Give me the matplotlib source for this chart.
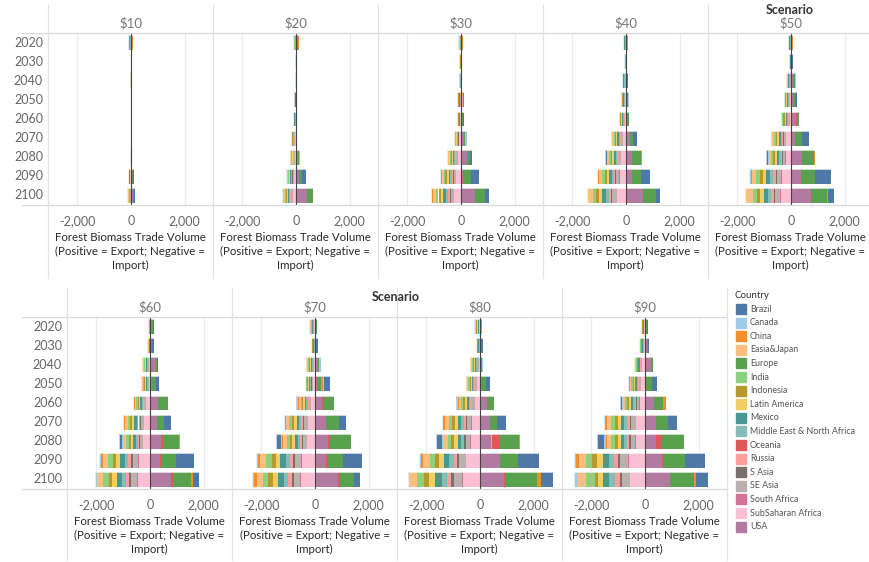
import matplotlib
matplotlib.use("Agg")
import matplotlib.pyplot as plt
from matplotlib.lines import Line2D
from matplotlib.patches import Rectangle

plt.rcParams['font.family'] = ['Lato', 'DejaVu Sans']

W, H = 870, 562

years = [2020, 2030, 2040, 2050, 2060, 2070, 2080, 2090, 2100]
countries = ["Brazil", "Canada", "China", "Easia&Japan", "Europe", "India", "Indonesia",
             "Latin America", "Mexico", "Middle East & North Africa", "Oceania", "Russia",
             "S Asia", "SE Asia", "South Africa", "SubSaharan Africa", "USA"]
colors = ["#4E79A7", "#A0CBE8", "#F28E2B", "#FFBE7D", "#59A14F", "#8CD17D", "#B6992D",
          "#F1CE63", "#499894", "#86BCB6", "#E15759", "#FF9D9A", "#79706E", "#BAB0AC",
          "#D37295", "#FABFD2", "#B07AA1"]
scenarios = ["$10", "$20", "$30", "$40", "$50", "$60", "$70", "$80", "$90"]
tick_values = [-2000, 0, 2000]
tick_labels = ["-2,000", "0", "2,000"]
axis_title = "Forest Biomass Trade Volume\n(Positive = Export; Negative =\nImport)"

# Trade volume per country, years 2020..2100 (positive = export, negative = import)
s10 = {
    "Brazil": [0, 10, 0, 0, 0, 0, 0, 30, 40],
    "Canada": [-30, -5, 0, -5, -5, -5, 0, 0, -30],
    "China": [35, 0, 0, 0, 0, 0, 15, 0, 0],
    "Easia&Japan": [0, 0, 0, 0, 0, 0, -20, -30, -20],
    "Europe": [0, 0, 10, 0, 0, 0, 0, 40, 50],
    "Indonesia": [-20, 0, -25, 0, 0, 0, 0, 0, 0],
    "Latin America": [40, 0, 0, 0, 0, 0, 0, 0, 0],
    "Mexico": [-30, 0, 0, 0, 0, 0, 0, -20, -20],
    "Middle East & North Africa": [-20, 0, 0, 0, 0, 0, 0, 0, -20],
    "Oceania": [0, 0, 0, 0, 0, 0, 0, 20, 0],
    "Russia": [0, 0, 0, 0, 0, 0, -30, -30, -20],
    "S Asia": [0, 0, 0, -5, -5, -5, 0, 0, 0],
    "SE Asia": [0, 0, 0, 0, 0, 0, 0, 0, -20],
    "SubSaharan Africa": [0, 0, 0, 0, 0, 0, 0, -20, 0],
    "USA": [0, 0, 0, 0, 0, 0, 0, 10, 70],
}
s20 = {
    "Brazil": [0, 0, 12, -20, 0, 0, 0, 120, 0],
    "Canada": [-20, 12, 0, -20, -30, -5, 40, -10, -20],
    "China": [30, 0, 0, 0, 0, -10, -10, -15, -20],
    "Easia&Japan": [0, 0, 0, 0, 0, -20, -20, -35, -50],
    "Europe": [40, 0, 0, 0, 0, 10, 60, 130, 220],
    "India": [-30, 0, 0, 0, 0, -15, -20, -35, -45],
    "Indonesia": [0, 0, 0, 0, -25, -15, -15, -25, -35],
    "Latin America": [30, 0, 0, 0, 0, -15, -15, -30, -40],
    "Mexico": [-30, -30, -15, 0, -25, -15, -20, -35, -45],
    "Middle East & North Africa": [-20, -20, -25, 0, -30, -15, -15, -25, -35],
    "Russia": [0, 0, 0, 0, 0, -10, -15, -20, -30],
    "S Asia": [0, 0, 0, -20, 0, -5, -5, -10, -15],
    "SE Asia": [0, 0, 0, 0, 0, -20, -25, -40, -55],
    "South Africa": [0, 0, 0, 0, 0, 0, 0, 5, -5],
    "SubSaharan Africa": [0, 0, 0, 0, 0, -40, -45, -80, -110],
    "USA": [0, 0, 0, 0, 0, 0, 70, 110, 420],
}
s30 = {
    "Brazil": [0, 25, 50, 0, 20, 0, 60, 310, 155],
    "Canada": [-25, 0, 0, -20, -20, 70, -20, -25, -35],
    "China": [30, 0, 0, 0, 0, -10, -20, -30, -45],
    "Easia&Japan": [-25, 0, 0, -25, 0, -25, -50, -75, -115],
    "Europe": [0, 0, 0, 30, 30, 40, 125, 280, 370],
    "India": [0, -30, 0, 0, -30, -25, -45, -70, -100],
    "Indonesia": [0, -30, 0, -20, -20, -20, -35, -55, -80],
    "Latin America": [30, 0, 0, 0, 0, -20, -40, -60, -90],
    "Mexico": [-25, 0, -30, -25, -30, -25, -45, -70, -100],
    "Middle East & North Africa": [-25, 0, -30, -25, -25, -20, -35, -55, -80],
    "Russia": [25, 0, 0, 30, 0, -15, -30, -45, -65],
    "S Asia": [0, 0, 0, 0, 0, -10, -15, -25, -35],
    "SE Asia": [0, 0, 0, -20, 0, -30, -55, -85, -125],
    "South Africa": [0, 0, 0, 0, 0, 0, -5, -10, -10],
    "SubSaharan Africa": [0, 0, 0, 0, -25, -55, -110, -170, -250],
    "USA": [0, 0, 0, 40, 50, 100, 210, 90, 520],
}
s40 = {
    "Brazil": [0, 50, 40, 0, 0, 150, -60, 330, 125],
    "Canada": [-30, -25, -25, 35, 0, -15, -15, -40, -45],
    "China": [30, 0, 0, 0, 0, -25, 35, -45, 25],
    "Easia&Japan": [0, 0, -25, 0, 0, -55, -70, -110, -150],
    "Europe": [30, 0, 0, 40, 45, 130, 370, 370, 470],
    "India": [0, 0, 0, -35, -30, -50, -70, -95, -135],
    "Indonesia": [-25, 0, 0, -30, -45, -40, -55, -75, -105],
    "Latin America": [25, 0, 0, 0, -30, -45, -60, -85, -120],
    "Mexico": [-30, -25, -35, -35, -35, -50, -70, -95, -135],
    "Middle East & North Africa": [-25, -25, -35, -35, -35, -40, -55, -75, -105],
    "Oceania": [0, 0, 0, 0, 30, 0, 0, 0, 0],
    "Russia": [0, 0, 0, 0, -30, -35, -45, -65, -90],
    "S Asia": [0, 0, 0, 0, 0, -15, -20, -30, -45],
    "SE Asia": [0, 0, -30, 0, 0, -60, -80, -120, -165],
    "South Africa": [0, 0, 0, 0, 0, -5, -10, -10, -15],
    "SubSaharan Africa": [0, 0, 0, -30, -40, -120, -165, -235, -330],
    "USA": [0, 0, 45, 50, 50, 150, 210, 210, 640],
}
s50 = {
    "Brazil": [0, 45, 0, 50, 0, 260, -100, 590, 225],
    "Canada": [-25, 0, 50, 0, 0, -20, -30, -45, -55],
    "China": [25, 0, 0, 0, 0, -30, 35, -60, 35],
    "Easia&Japan": [0, -25, -35, 0, -35, -75, -85, -155, -240],
    "Europe": [25, 15, 60, 100, 90, 270, 470, 520, 565],
    "India": [-20, 0, 0, -30, -40, -70, -80, -140, -155],
    "Indonesia": [-25, -30, 0, -45, -45, -55, -60, -110, -120],
    "Latin America": [25, 0, -30, -30, -35, -60, -70, -125, -135],
    "Mexico": [-30, -30, -40, -35, -45, -70, -80, -140, -155],
    "Middle East & North Africa": [-25, 0, -40, -35, -40, -55, -60, -110, -120],
    "Oceania": [0, 0, 0, 0, 40, 0, 0, 0, 25],
    "Russia": [0, 0, 0, -30, -30, -45, -55, -95, -100],
    "S Asia": [0, 0, 0, 0, 0, -20, -25, -45, -50],
    "SE Asia": [0, 0, -40, 0, -35, -85, -95, -170, -190],
    "South Africa": [0, 0, 0, 0, 0, -10, -10, -15, -15],
    "SubSaharan Africa": [0, 0, 0, -40, -50, -165, -195, -340, -375],
    "USA": [0, 0, 90, 70, 180, 160, 405, 380, 750],
}
s60 = {
    "Brazil": [50, 100, 50, 110, 0, 260, -120, 680, 235],
    "Canada": [0, -25, 0, -25, -15, -20, -40, -60, -65],
    "China": [0, 0, -30, 0, -30, -40, 30, -75, 75],
    "Easia&Japan": [-20, -25, -30, -35, -60, -100, -110, -190, -250],
    "Europe": [40, 30, 60, 185, 380, 260, 590, 550, 655],
    "India": [0, 0, -30, -35, -55, -90, -95, -170, -190],
    "Indonesia": [0, -25, -30, -35, -45, -70, -75, -130, -145],
    "Latin America": [0, 0, -30, -30, -50, -80, -85, -150, -165],
    "Mexico": [-20, -25, -35, -40, -55, -90, -95, -170, -190],
    "Middle East & North Africa": [-20, 0, -35, -35, -45, -70, -75, -130, -145],
    "Oceania": [0, 0, 0, 0, 0, 20, 60, 35, 75],
    "Russia": [0, 0, 0, 0, -35, -60, -65, -115, -125],
    "S Asia": [0, 0, 0, 0, -15, -30, -30, -55, -60],
    "SE Asia": [0, 0, -30, -35, -70, -110, -115, -205, -230],
    "South Africa": [0, 0, 0, 0, -5, -10, -10, -20, -20],
    "SubSaharan Africa": [0, 0, -35, -50, -135, -215, -240, -410, -460],
    "USA": [60, 40, 210, 60, 300, 260, 430, 395, 800],
}
s70 = {
    "Brazil": [0, 100, 0, 190, -50, 275, -185, 725, 225],
    "Canada": [-25, 0, 70, 60, -20, -35, -50, -65, -70],
    "China": [-20, 0, -30, 75, -30, -45, -50, -85, -95],
    "Easia&Japan": [-25, -30, -35, -40, -65, -115, -125, -220, -235],
    "Europe": [30, 0, 40, 160, 360, 455, 750, 590, 555],
    "India": [-25, 0, -35, -35, -60, -105, -115, -195, -210],
    "Indonesia": [-25, -35, -35, -30, -45, -80, -90, -155, -165],
    "Latin America": [30, 0, -35, -30, -50, -95, -100, -175, -185],
    "Mexico": [-30, -35, -40, -35, -60, -105, -115, -195, -210],
    "Middle East & North Africa": [-30, -35, -40, -30, -45, -80, -90, -155, -165],
    "Oceania": [0, 0, 0, 0, 100, 0, 110, 50, 30],
    "Russia": [0, 0, 0, -25, -40, -70, -75, -130, -140],
    "S Asia": [0, 0, 0, -10, -20, -35, -40, -65, -70],
    "SE Asia": [0, 0, -40, -40, -70, -130, -140, -240, -255],
    "South Africa": [0, 0, 0, 0, -5, -10, -10, -20, -25],
    "SubSaharan Africa": [-30, 0, -40, -85, -140, -255, -280, -480, -515],
    "USA": [0, 20, 100, 60, 250, 430, 470, 395, 860],
}
s80 = {
    "Brazil": [0, 50, 0, 160, -50, 340, -220, 780, 455],
    "Canada": [-20, 0, 50, -15, -30, -40, -65, -65, -60],
    "China": [20, 0, -35, -25, -35, -55, 35, -90, 165],
    "Easia&Japan": [-30, -30, -40, -50, -80, -140, -155, -230, -280],
    "Europe": [40, 30, 35, 210, 280, 250, 750, 680, 1170],
    "India": [-25, 0, -40, -45, -75, -125, -140, -200, -250],
    "Indonesia": [-30, -40, -40, -40, -60, -100, -110, -160, -195],
    "Latin America": [-25, 0, -40, -40, -65, -110, -125, -180, -225],
    "Mexico": [-30, -40, -45, -50, -75, -125, -140, -200, -250],
    "Middle East & North Africa": [-25, -40, -45, -40, -60, -100, -110, -160, -195],
    "Oceania": [0, 0, 0, 0, 0, 0, 270, 0, 60],
    "Russia": [0, 0, 0, -30, -50, -85, 40, -135, -170],
    "S Asia": [0, 0, 0, -15, -25, -40, -45, -70, -85],
    "SE Asia": [0, 0, -40, -55, -90, -155, -175, -250, -310],
    "South Africa": [0, 0, 0, 0, -10, -15, -15, -20, -30],
    "SubSaharan Africa": [-25, 0, -45, -115, -185, -310, -345, -500, -640],
    "USA": [0, 20, 40, 10, 250, 370, 395, 740, 890],
}
s90 = {
    "Brazil": [35, 60, 0, 195, -100, 330, -235, 770, 435],
    "Canada": [-25, 0, -10, -15, -30, -50, -80, -85, -135],
    "China": [0, -25, -20, -30, 100, -60, -60, -110, 85],
    "Easia&Japan": [-25, -30, -45, -60, -85, -155, -145, -265, -310],
    "Europe": [40, 50, 90, 200, 335, 470, 800, 750, 890],
    "India": [0, -25, -40, -55, -80, -135, -130, -235, -330],
    "Indonesia": [-25, -30, -30, -45, -60, -105, -105, -185, -120],
    "Latin America": [0, -25, -35, -50, -70, -120, -115, -210, -150],
    "Mexico": [-25, -35, -40, -55, -80, -135, -130, -235, -245],
    "Middle East & North Africa": [-25, -35, -30, -45, -60, -105, -105, -185, -220],
    "Oceania": [0, 0, 0, 0, 0, 0, 220, 100, 0],
    "Russia": [0, 0, -25, -35, -55, -95, -90, -160, -185],
    "S Asia": [0, 0, -10, -15, -25, -45, -45, -80, -60],
    "SE Asia": [0, 0, -45, -70, -95, -170, -170, -295, -310],
    "South Africa": [0, 0, 0, -5, -10, -15, -15, -25, -20],
    "SubSaharan Africa": [-25, -30, -90, -135, -195, -335, -345, -590, -540],
    "USA": [50, 60, 230, 50, 345, 400, 430, 630, 940],
}

scenario_data = [s10, s20, s30, s40, s50, s60, s70, s80, s90]

fig = plt.figure(figsize=(W / 100, H / 100), dpi=100)
fig.patch.set_facecolor("white")


def rect(x0, y0, x1, y1):
    return [x0 / W, 1 - y1 / H, (x1 - x0) / W, (y1 - y0) / H]


def hline(y, x0, x1, color="#d9d9d9", lw=0.9):
    fig.add_artist(Line2D([x0 / W, x1 / W], [1 - y / H, 1 - y / H], color=color, lw=lw,
                          transform=fig.transFigure))


def vline(x, y0, y1, color="#e2e2e2", lw=0.9):
    fig.add_artist(Line2D([x / W, x / W], [1 - y0 / H, 1 - y1 / H], color=color, lw=lw,
                          transform=fig.transFigure))


XL = (-3090, 3060)
rows = [
    dict(lefts=[48, 213, 378, 543, 708], width=165, top=33, bottom=205, idx=[0, 1, 2, 3, 4],
         year_x=43, scen_xy=(790, 10), line_x0=22, line_x1=870, vtop=5, vbot=278),
    dict(lefts=[67, 232, 397, 562], width=165, top=317, bottom=489, idx=[5, 6, 7, 8],
         year_x=62, scen_xy=(396, 297), line_x0=22, line_x1=727, vtop=288, vbot=560),
]

for row in rows:
    hline(row["top"], row["line_x0"], row["line_x1"])
    hline(row["bottom"], row["line_x0"], row["line_x1"])
    for x in row["lefts"] + [row["lefts"][-1] + row["width"]]:
        vline(x, row["vtop"], row["vbot"])
    fig.text(row["scen_xy"][0] / W, 1 - row["scen_xy"][1] / H, "Scenario", ha="center",
             va="center", fontsize=9, color="#333333", fontweight="bold")
    step = (row["bottom"] - row["top"]) / 9
    for i, yr in enumerate(years):
        yc = row["top"] + step * (i + 0.5)
        fig.text(row["year_x"] / W, 1 - yc / H, str(yr), ha="right", va="center",
                 fontsize=9, color="#666666")
    for left, si in zip(row["lefts"], row["idx"]):
        ax = fig.add_axes(rect(left, row["top"], left + row["width"], row["bottom"]))
        ax.set_xlim(*XL)
        ax.set_ylim(8.5, -0.5)
        ax.patch.set_alpha(0)
        for s in ax.spines.values():
            s.set_visible(False)
        for tv in tick_values:
            ax.axvline(tv, color="#ececec", lw=0.9, zorder=0)
        data = scenario_data[si]
        for i in range(len(years)):
            pos, neg = 0.0, 0.0
            for ci in range(len(countries) - 1, -1, -1):
                vals = data.get(countries[ci])
                if vals is None:
                    continue
                v = vals[i]
                if v > 0:
                    ax.barh(i, v, left=pos, height=0.78, color=colors[ci], lw=0, zorder=2)
                    pos += v
                elif v < 0:
                    ax.barh(i, v, left=neg, height=0.78, color=colors[ci], lw=0, zorder=2)
                    neg += v
            if pos > 0 or neg < 0:
                ax.add_patch(Rectangle((neg, i - 0.39), pos - neg, 0.78, fill=False,
                                       ec="#ffffff", lw=0.6, alpha=0.8, zorder=3))
        ax.axvline(0, color="#444444", lw=0.8, zorder=4)
        ax.set_yticks([])
        ax.set_xticks(tick_values)
        ax.set_xticklabels(tick_labels)
        ax.tick_params(axis="x", length=0, labelsize=9, colors="#666666", pad=7)
        cx = (left + left + row["width"]) / 2
        if cx + 78 > W:
            cx = W - 80
        fig.text(cx / W, 1 - (row["top"] - 10) / H, scenarios[si], ha="center", va="center",
                 fontsize=9.5, color="#777777")
        fig.text(cx / W, 1 - (row["bottom"] + 27) / H, axis_title, ha="center", va="top",
                 fontsize=8.3, color="#2a2a2a", linespacing=1.35)

# legend
fig.text(735 / W, 1 - 296 / H, "Country", ha="left", va="center", fontsize=7, color="#333333")
for k, (name, col) in enumerate(zip(countries, colors)):
    yc = 309 + k * 13.6
    fig.add_artist(Rectangle((736 / W, 1 - (yc + 5) / H), 10 / W, 10 / H, color=col,
                             transform=fig.transFigure))
    fig.text(750 / W, 1 - yc / H, name, ha="left", va="center", fontsize=6.4, color="#555555")

fig.savefig("out.png", dpi=100, facecolor="white")
